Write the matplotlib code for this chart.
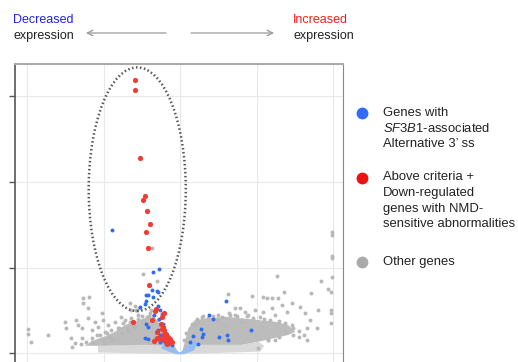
import matplotlib
matplotlib.use("Agg")
from matplotlib import pyplot as plt
from matplotlib.patches import Ellipse
from matplotlib.lines import Line2D

plt.rcParams["font.family"] = ["Liberation Sans", "DejaVu Sans"]
plt.rcParams["mathtext.fontset"] = "custom"
plt.rcParams["mathtext.rm"] = "Liberation Sans"
plt.rcParams["mathtext.it"] = "Liberation Sans:italic"

# dense cloud outlines (log2 fold change, -log10 p)
left_cloud_x = [-2.5, -2.23, -1.95, -1.70, -1.44, -1.18, -0.92, -0.65, -0.55, -0.48, -0.35, -0.22, -0.05, -0.3, -1.5]
left_cloud_y = [0.9, 1.55, 2.0, 2.52, 3.30, 3.69, 4.12, 4.12, 3.5, 2.95, 2.1, 1.35, 0.19, 0.6, 0.8]
right_cloud_x = [0.05, 0.22, 0.39, 0.74, 1.18, 1.62, 2.04, 2.49, 2.83, 3.01, 2.83, 2.04, 1.62, 0.5, 0.2]
right_cloud_y = [0.1, 2.92, 3.89, 4.09, 4.27, 4.09, 3.89, 3.69, 3.30, 2.52, 2.14, 1.35, 0.97, 0.8, 0.3]
ns_band_x = [-2.15, -2.15, -0.9, -0.35, -0.1, 0.0, 0.1, 0.3, 1.6, 2.05, 2.2, 2.1, 0.0]
ns_band_y = [0.1, 0.9, 1.0, 0.9, 0.1, -0.05, 0.3, 1.0, 1.0, 1.35, 0.9, 0.2, -0.1]
ns_blue_x = [-0.5, -0.45, -0.2, 0.0, 0.15, 0.3, 0.4, 0.45, 0.35, 0.1, -0.1, -0.3]
ns_blue_y = [0.6, 0.95, 0.6, 0.1, 0.6, 1.2, 1.6, 1.0, 0.3, -0.1, -0.1, 0.2]

# other genes outside the dense cloud
grey_x = [-3.99, -3.99, -3.90, -3.46, -3.01, -2.99, -2.85, -2.75, -2.82, -2.71, -2.66, -2.57, -2.53, -2.38,
          -2.53, -2.40, -2.42, -2.31, -2.23, -2.18, -2.14, -2.03, -2.01, -1.96, -1.88, -1.83, -1.70, -1.54,
          -1.61, -1.44, -1.31, -1.27, -1.27, -1.09, -1.07, -1.00, -0.87, -0.79, -1.18, -1.35, -1.53, -1.79,
          -2.05, -2.31, -2.57, -0.98, -0.74, -0.61, -1.18, -1.14, -0.75,
          -2.45, -2.30, -2.10, -1.90, -1.80, -1.60, -1.50, -1.30, -1.10, -1.00, -0.80, -0.70, -0.58, -0.50,
          -2.60, -2.00, -1.40, -1.20, -0.95,
          1.25, 1.89, 2.16, 2.27, 2.40, 2.56, 2.73, 3.43, 3.88, 3.95, 3.95, 3.95, 3.95, 3.60, 3.58, 3.32,
          3.23, 3.10, 3.32, 3.40, 3.27, 3.14, 2.92, 2.79, 2.66, 2.49, 2.40, 2.18, 2.09, 1.96, 1.79, 1.70,
          1.57, 1.44, 1.44, 1.27, 1.09, 0.96, 0.74, 0.57, 0.48, 0.39, 2.49, 2.31, 2.05, 2.75, 2.92, 1.83,
          2.14, 1.61, 1.18, 2.53, 3.68, 3.97, 3.97, 3.97, 3.97, 3.97,
          0.30, 0.45, 0.60, 0.85, 1.00, 1.30, 1.50, 1.75, 1.90, 2.20, 2.35, 2.60, 2.75, 2.95, 3.10, 2.95,
          2.60, 2.30, 0.15, 0.10]
grey_y = [2.84, 2.29, 1.36, 2.14, 3.61, 2.91, 1.75, 1.16, 0.77, 3.89, 3.30, 2.91, 6.42, 6.57,
          5.83, 5.25, 4.08, 2.72, 3.69, 2.14, 3.11, 4.67, 3.89, 2.53, 3.30, 1.94, 3.69, 4.24,
          2.91, 3.89, 5.83, 5.05, 4.08, 4.47, 5.25, 3.69, 4.28, 4.67, 3.11, 2.72, 2.33, 1.55,
          1.55, 1.36, 1.75, 9.26, 12.25, 8.49, 5.58, 5.08, 5.00,
          1.30, 1.80, 2.10, 2.40, 2.70, 3.00, 3.50, 3.70, 4.00, 4.30, 4.30, 4.40, 3.90, 3.30,
          1.10, 1.20, 2.90, 3.30, 3.80,
          6.88, 6.73, 6.61, 6.42, 6.42, 6.49, 7.12, 7.04, 7.51, 7.19, 5.05, 4.67, 3.50, 5.05, 2.91, 2.91,
          2.14, 1.94, 1.55, 3.89, 4.67, 5.44, 5.83, 4.86, 5.64, 4.47, 5.25, 4.86, 4.28, 5.05, 4.47, 4.86,
          5.25, 4.47, 5.25, 4.67, 4.28, 3.89, 4.08, 4.28, 3.69, 3.30, 1.55, 1.55, 0.58, 2.53, 3.30, 2.72,
          3.11, 3.69, 3.30, 8.99, 8.49, 14.11, 13.84, 11.40, 11.12, 8.95,
          3.40, 4.00, 4.30, 4.40, 4.50, 4.50, 4.30, 4.30, 4.10, 4.00, 3.90, 3.80, 3.50, 3.00, 2.60, 2.10,
          1.90, 1.60, 2.40, 1.60]

# genes with SF3B1-associated alternative 3' ss
blue_x = [-1.77, -0.54, -0.70, -0.74, -0.61, -0.57, -0.90, -0.83, -0.70, -0.88, -0.91, -1.04, -0.58, -0.53,
          -0.48, -0.68, -0.54, -0.88, -0.83, -0.44, -0.57, -0.91, -0.83, -0.61, -0.46, -0.53, -0.37, -0.22,
          -0.53, 1.21, 0.76, 0.85, 0.55, 0.35, 0.61, 0.57, 1.01, 1.23, 1.25, 1.86, 0.46, 0.26]
blue_y = [14.42, 9.88, 9.53, 7.40, 7.33, 7.21, 6.78, 6.78, 6.55, 6.16, 5.78, 5.39, 5.58, 5.00,
          4.61, 4.42, 4.03, 3.45, 3.06, 3.37, 2.75, 1.82, 1.71, 1.71, 1.59, 1.32, 1.12, 0.93,
          2.09, 6.16, 4.53, 3.99, 2.87, 2.05, 2.29, 1.90, 1.90, 2.17, 1.51, 2.75, 1.12, 1.32]

# above criteria + down-regulated with NMD-sensitive abnormalities
red_x = [-1.18, -1.17, -1.04, -0.91, -0.96, -0.86, -0.79, -0.90, -0.84, -0.80, -1.23,
         -0.62, -0.65, -0.43, -0.46, -0.74, -0.50, -0.44, -0.48, -0.41, -0.60, -0.38, -0.31, -0.35,
         -0.26, -0.39, -0.61, -0.68, -0.22, -0.31, -0.35, -0.44, -0.53, -0.30, -0.25, -0.40, -0.33]
red_y = [31.94, 30.70, 22.83, 18.33, 17.95, 16.67, 15.04, 14.15, 12.25, 7.98, 3.68,
         5.19, 4.92, 4.69, 4.22, 3.91, 3.45, 3.06, 2.87, 2.75, 2.48, 2.29, 1.90, 1.71,
         1.51, 1.43, 1.82, 1.40, 1.32, 1.20, 1.05, 2.09, 1.71, 1.45, 1.70, 1.95, 1.30]

y_ticks = [0, 10, 20, 30]
x_grid = [-4, -2, 0, 2, 4]

GREY = "#bcbcbc"
LIGHT_GREY = "#d9d9d9"
BLUE = "#2f6cf0"
LIGHT_BLUE = "#94bcf7"
RED = "#f03c32"

fig = plt.figure(figsize=(5.18, 3.62), dpi=100)
ax = fig.add_axes([0.0295, -0.0276, 0.6332, 0.8508])

ax.fill(left_cloud_x, left_cloud_y, color=GREY, lw=0, zorder=2)
ax.fill(right_cloud_x, right_cloud_y, color=GREY, lw=0, zorder=2)
ax.fill(ns_band_x, ns_band_y, color=LIGHT_GREY, lw=0, zorder=2.2)
ax.fill(ns_blue_x, ns_blue_y, color=LIGHT_BLUE, lw=0, zorder=2.5)
ax.scatter(grey_x, grey_y, s=8, color="#b8b8b8", lw=0, zorder=3)
ax.scatter(blue_x, blue_y, s=8, color=BLUE, lw=0, zorder=4)
ax.scatter(red_x, red_y, s=14, color=RED, lw=0, zorder=5)

ax.add_patch(Ellipse((-1.12, 19.15), 2.54, 28.45, fill=False, ec="#555555", lw=1.8, ls=(0, (0.6, 1.0)), zorder=6))

ax.set_xlim(-4.31, 4.27)
ax.set_ylim(-2.18, 33.77)
ax.set_xticks(x_grid)
ax.set_yticks(y_ticks)
ax.tick_params(axis="y", direction="out", length=4, width=1, color="#555555", labelleft=False)
ax.tick_params(axis="x", length=0, labelbottom=False)
ax.grid(True, color="#e8e8e8", lw=0.8)
ax.set_axisbelow(True)
ax.spines["left"].set_color("#555555")
ax.spines["left"].set_linewidth(1.2)
ax.spines["top"].set_color("#aaaaaa")
ax.spines["top"].set_linewidth(1.5)
ax.spines["right"].set_color("#888888")
ax.spines["bottom"].set_visible(False)


def fx(px):
    return px / 518


def fy(py):
    return 1 - py / 362


# direction labels above the plot
fig.text(fx(13), fy(20), "Decreased", color="#2323e6", fontsize=9, va="center")
fig.text(fx(13), fy(36), "expression", color="#222222", fontsize=9, va="center")
fig.text(fx(293), fy(20), "Increased", color="#ee2020", fontsize=9, va="center")
fig.text(fx(293), fy(36), "expression", color="#222222", fontsize=9, va="center")
arrow = dict(arrowstyle="->", color="#999999", lw=0.9, shrinkA=0, shrinkB=0)
fig.add_artist(plt.Annotation("", xy=(fx(86), fy(33)), xytext=(fx(166), fy(33)),
                              xycoords="figure fraction", textcoords="figure fraction", arrowprops=arrow))
fig.add_artist(plt.Annotation("", xy=(fx(274), fy(33)), xytext=(fx(191), fy(33)),
                              xycoords="figure fraction", textcoords="figure fraction", arrowprops=arrow))

# legend drawn by hand so markers sit on the first line
legend_rows = [
    ("#2f6bff", 113, ["Genes with", "$\\mathit{SF3B1}$-associated", "Alternative 3\u2019 ss"]),
    ("#ee1111", 177.5, ["Above criteria +", "Down-regulated", "genes with NMD-", "sensitive abnormalities"]),
    ("#aaaaaa", 261.5, ["Other genes"]),
]
for color, py, lines in legend_rows:
    fig.add_artist(Line2D([fx(361.7)], [fy(py)], marker="o", markersize=7.5, color=color, lw=0))
    for i, line in enumerate(lines):
        fig.text(fx(383), fy(py + i * 15.6), line, fontsize=9.4, color="#222222", va="center")

fig.savefig("out.png", dpi=100)
